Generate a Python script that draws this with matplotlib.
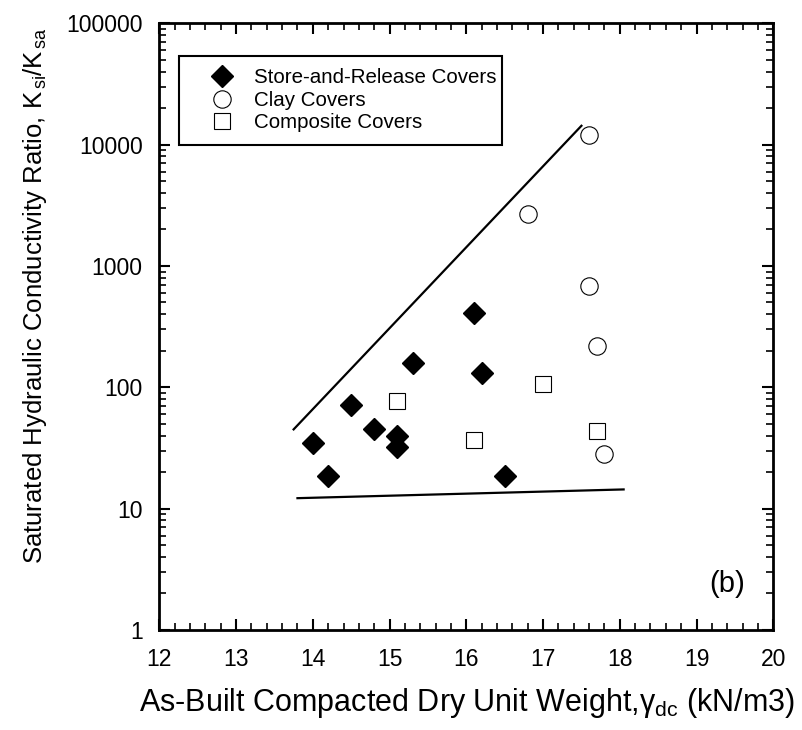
import numpy as np
import matplotlib
matplotlib.use("Agg")
import matplotlib.pyplot as plt
from matplotlib.ticker import MultipleLocator, LogLocator, FuncFormatter, NullFormatter

plt.rcParams["font.family"] = ["Liberation Sans", "DejaVu Sans"]
plt.rcParams["mathtext.fontset"] = "custom"
plt.rcParams["mathtext.rm"] = "Liberation Sans"
plt.rcParams["mathtext.it"] = "Liberation Sans:italic"
plt.rcParams["mathtext.bf"] = "Liberation Sans:bold"

# Store-and-release covers
store_x = [14.0, 14.2, 14.5, 14.8, 15.1, 15.1, 15.3, 16.1, 16.2, 16.5]
store_y = [35, 18.5, 71, 45, 40, 32.5, 160, 410, 130, 18.7]
# Clay covers
clay_x = [17.6, 16.8, 17.6, 17.7, 17.8]
clay_y = [11900, 2700, 690, 220, 28]
# Composite covers
comp_x = [15.1, 16.1, 17.0, 17.7]
comp_y = [77, 37, 106, 44]
# Bounding lines
upper_x = [13.75, 17.5]
upper_y = [45, 14300]
lower_x = [13.8, 18.05]
lower_y = [12.2, 14.4]

labels = ["Store-and-Release Covers", "Clay Covers", "Composite Covers"]

fig = plt.figure(figsize=(8.03, 7.30), dpi=100)
ax = fig.add_axes([0.1984, 0.137, 0.7646, 0.8311])

ax.plot(upper_x, upper_y, color="black", lw=1.6)
ax.plot(lower_x, lower_y, color="black", lw=1.6)

h1, = ax.plot(store_x, store_y, "D", ms=11, color="black", label=labels[0])
h2, = ax.plot(clay_x, clay_y, "o", ms=12.5, mfc="white", mec="black", mew=0.8,
              label=labels[1])
h3, = ax.plot(comp_x, comp_y, "s", ms=12, mfc="white", mec="black", mew=0.8,
              label=labels[2])

ax.set_yscale("log")
ax.set_xlim(12, 20)
ax.set_ylim(1, 100000)
ax.xaxis.set_major_locator(MultipleLocator(1))
ax.xaxis.set_minor_locator(MultipleLocator(0.2))
ax.yaxis.set_major_locator(LogLocator(base=10, numticks=10))
ax.yaxis.set_minor_locator(LogLocator(base=10, subs=np.arange(2, 10), numticks=100))
ax.yaxis.set_major_formatter(FuncFormatter(lambda v, p: f"{v:.0f}"))
ax.yaxis.set_minor_formatter(NullFormatter())

ax.tick_params(which="both", direction="in", top=True, right=True, labelsize=16.5)
ax.tick_params(which="major", length=8, width=1.5)
ax.tick_params(which="minor", length=5, width=1.2)
ax.tick_params(axis="y", pad=12)
ax.tick_params(axis="x", pad=13)
for s in ax.spines.values():
    s.set_linewidth(2)

ax.set_xlabel("As-Built Compacted Dry Unit Weight,γ$_{\\mathregular{dc}}$ (kN/m3)",
              fontsize=22)
ax.set_ylabel("Saturated Hydraulic Conductivity Ratio, K$_{\\mathregular{\\,si}}$/K$_{\\mathregular{\\,sa}}$",
              fontsize=18.5)
ax.xaxis.set_label_coords(0.501, -0.093)
ax.yaxis.set_label_coords(-0.18, 0.552)

ax.text(0.925, 0.075, "(b)", transform=ax.transAxes, fontsize=21,
        ha="center", va="center")

leg = ax.legend(handles=[h1, h2, h3], loc="upper left",
                bbox_to_anchor=(0.032, 0.0, 0.5266, 0.9466), mode="expand",
                borderaxespad=0, fontsize=14.8, numpoints=1,
                borderpad=0.62, handlelength=2.9, handletextpad=0.12,
                labelspacing=0.16, fancybox=False, framealpha=1,
                edgecolor="black")
leg.get_frame().set_linewidth(1.5)

fig.savefig("out.png", dpi=100)
